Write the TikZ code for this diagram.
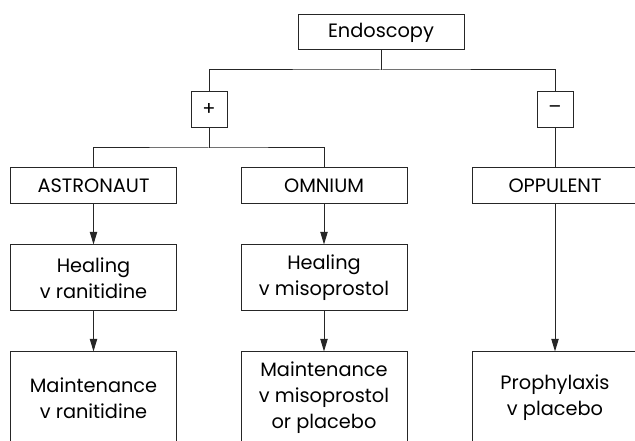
\documentclass[tikz,border=0pt]{standalone}
\usepackage{fontspec}
\setmainfont{Poppins}
\usetikzlibrary{arrows.meta}

\begin{document}
\begin{tikzpicture}[x=0.75pt,y=0.75pt,yscale=-1,xscale=1,
  box/.style={draw=black!85,line width=0.75,inner sep=0pt,align=center,font=\fontsize{14.5}{19.5}\selectfont},
  topbox/.style={box,minimum width=124.5pt,minimum height=26.25pt},
  signbox/.style={box,minimum width=27pt,minimum height=27pt},
  trialbox/.style={box,minimum width=124.5pt,minimum height=27pt},
  healbox/.style={box,minimum width=124.5pt,minimum height=49.5pt},
  lastbox/.style={box,minimum width=124.5pt,minimum height=69pt},
  link/.style={draw=black!85,line width=0.75},
  arrow/.style={link,-{Triangle[length=9.5pt,width=5.5pt]}}]
\useasboundingbox (0,0) rectangle (635,441);
\clip (0,0) rectangle (635,441);
%Shape: Rectangle
\node[topbox] (endo) at (381,32.5) {Endoscopy};
\node[signbox] (plus) at (209,109.5) {+};
\node[signbox] (minus) at (555,109.5) {--};
% Text Node
\node[trialbox] (astro) at (93.5,186) {ASTRONAUT};
\node[trialbox] (omni) at (324,186) {OMNIUM};
\node[trialbox] (oppu) at (555,186) {OPPULENT};
\node[healbox] (healr) at (93.5,278) {Healing\\v ranitidine};
\node[healbox] (healm) at (324,278) {Healing\\v misoprostol};
\node[lastbox] (maintr) at (93.5,398) {Maintenance\\v ranitidine};
\node[lastbox] (maintm) at (324,398) {Maintenance\\v misoprostol\\or placebo};
\node[lastbox] (prophy) at (555,398) {Prophylaxis\\v placebo};
%Straight Lines
\coordinate (split) at (381,70);
\coordinate (fork) at (209,148);
\draw[link] (endo) -- (split);
\draw[link] (plus) |- (split) -| (minus);
\draw[link] (plus) -- (fork);
\draw[link] (astro) |- (fork) -| (omni);
\draw[link] (minus) -- (oppu);
\draw[arrow] (astro) -- (healr);
\draw[arrow] (healr) -- (maintr);
\draw[arrow] (omni) -- (healm);
\draw[arrow] (healm) -- (maintm);
\draw[arrow] (oppu) -- (prophy);
\end{tikzpicture}
\end{document}
